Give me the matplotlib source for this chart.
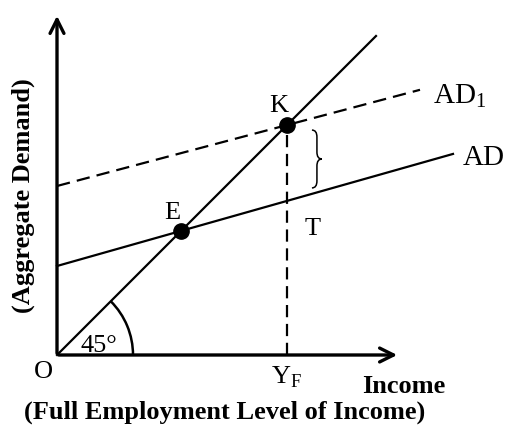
import numpy as np
import matplotlib
matplotlib.use("Agg")
import matplotlib.pyplot as plt
from matplotlib.patches import Arc, PathPatch
from matplotlib.path import Path

plt.rcParams["font.family"] = ["Liberation Serif", "DejaVu Serif"]

# diagram units (origin = O)
ad_intercept = 89.0
ad_slope = 0.283
ad1_intercept = 169.0
ad1_slope = 0.265
ad_end = 396.0
ad1_end = 363.0
line45_end = 319.0
x_axis_end = 343.0
y_axis_end = 342.0
angle_radius = 76.0

# equilibrium points from the lines
y_e = ad_intercept / (1 - ad_slope)
y_f = ad1_intercept / (1 - ad1_slope)
ad_at_yf = ad_intercept + ad_slope * y_f

fig = plt.figure(figsize=(5.07, 4.26), dpi=100)
ax = fig.add_axes([0, 0, 1, 1])
ax.set_xlim(-57, 450)
ax.set_ylim(-71, 355)
ax.axis("off")

# axes with arrows
arr = dict(arrowstyle="->", lw=2.4, color="black", mutation_scale=25)
ax.annotate("", xy=(0, y_axis_end), xytext=(0, -1), arrowprops=arr)
ax.annotate("", xy=(x_axis_end, 0), xytext=(-1, 0), arrowprops=arr)

# 45 degree line
x45 = np.array([0, line45_end])
ax.plot(x45, x45, color="black", lw=1.6)

# AD and AD1
xa = np.array([0, ad_end])
ax.plot(xa, ad_intercept + ad_slope * xa, color="black", lw=1.6)
xb = np.array([0, ad1_end])
ax.plot(xb, ad1_intercept + ad1_slope * xb, color="black", lw=1.6, dashes=(6, 3.2))

# vertical from K to Y_F
ax.plot([y_f, y_f], [0, y_f], color="black", lw=1.6, dashes=(5.5, 3.0))

# points
ax.plot([y_e, y_f], [y_e, y_f], "o", color="black", ms=11)

# 45 degree arc
ax.add_patch(Arc((0, 0), 2 * angle_radius, 2 * angle_radius, theta1=0, theta2=45,
                 color="black", lw=1.8))

# brace for the inflationary gap
bx, bw = y_f + 25, 10
yt, yb = y_f - 5, ad_at_yf + 13
ym, hq = 0.5 * (yt + yb), 0.12 * (yt - yb)
verts = [(bx, yt), (bx + bw / 2, yt), (bx + bw / 2, yt - hq),
         (bx + bw / 2, ym + hq),
         (bx + bw / 2, ym), (bx + bw, ym),
         (bx + bw / 2, ym), (bx + bw / 2, ym - hq),
         (bx + bw / 2, yb + hq),
         (bx + bw / 2, yb), (bx, yb)]
codes = [Path.MOVETO, Path.CURVE3, Path.CURVE3, Path.LINETO,
         Path.CURVE3, Path.CURVE3, Path.CURVE3, Path.CURVE3,
         Path.LINETO, Path.CURVE3, Path.CURVE3]
ax.add_patch(PathPatch(Path(verts, codes), fill=False, lw=1.1, color="black"))

t = dict(color="black", fontsize=19, va="baseline")
ax.text(42, 3, "45°", ha="center", **t)
ax.text(-14, -23, "O", ha="center", **t)
ax.text(y_e - 9, y_e + 12, "E", ha="center", **t)
ax.text(y_f - 8, y_f + 13, "K", ha="center", **t)
ax.text(y_f + 26, ad_at_yf - 34, "T", ha="center", **t)
ax.text(y_f, -28, "Y$_\\mathregular{F}$", ha="center", **t)
a = dict(color="black", fontsize=21, va="baseline", ha="left")
ax.text(ad1_end + 13, 252, "AD$_\\mathregular{1}$", **a)
ax.text(ad_end + 10, 190, "AD", **a)

b = dict(color="black", fontsize=19, fontweight="bold")
ax.text(347, -38, "Income", ha="center", va="baseline", **b)
ax.text(168, -64, "(Full Employment Level of Income)", ha="center", va="baseline", **b)
ax.text(-34, 159, "(Aggregate Demand)", ha="center", va="center", rotation=90, **b)

fig.savefig("out.png", dpi=100)
